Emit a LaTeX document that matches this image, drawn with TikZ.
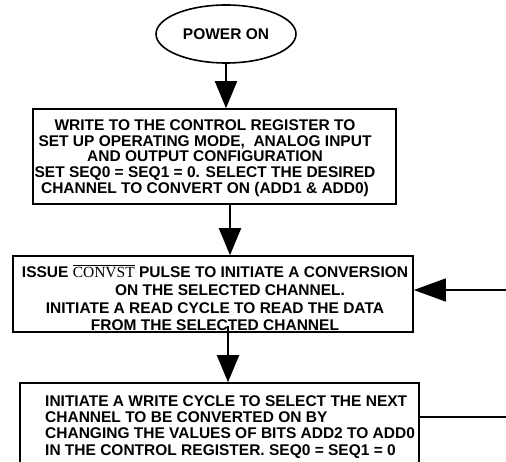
\documentclass[tikz,border=0pt]{standalone}
\usepackage{fontspec}
\setmainfont{Liberation Sans}
\newfontfamily\convfont{Liberation Serif}
\usetikzlibrary{arrows.meta,shapes.geometric}
\newcommand\ovltext[1]{{\mdseries\convfont\setbox0\hbox{#1}\rlap{\raisebox{\dimexpr\ht0+1.6pt\relax}{\rule{\wd0}{0.9pt}}}\box0}}
\tikzset{
  boxshape/.style={draw, line width=1.6pt, inner sep=0pt},
  txt/.style={inner sep=0pt, font=\fontsize{15.5}{15.6}\selectfont\bfseries},
  flow/.style={line width=2pt, -{Triangle[length=27pt,width=22pt]}},
  side/.style={line width=1.4pt},
}
\begin{document}
\begin{tikzpicture}[x=1pt,y=-1pt]
\clip (0,0) rectangle (506,462);
\useasboundingbox (0,0) rectangle (506,462);
% shapes
\node[ellipse, draw, line width=1.6pt, minimum width=140pt, minimum height=58pt, inner sep=0pt] (pw) at (226,34) {};
\node[txt] (pwt) at (226,34) {POWER ON};
\node[boxshape, minimum width=363pt, minimum height=95pt] (b1) at (214.5,156.5) {};
\node[boxshape, minimum width=400pt, minimum height=76pt] (b2) at (213,294) {};
\node[boxshape, minimum width=399pt, minimum height=117pt] (b3) at (219.5,441.5) {};
% texts
\node[txt, align=center] (t1) at (205,158) {WRITE TO THE CONTROL REGISTER TO\\SET UP OPERATING MODE,\ \ ANALOG INPUT\\AND OUTPUT CONFIGURATION\\SET SEQ0 = SEQ1 = 0. SELECT THE DESIRED\\CHANNEL TO CONVERT ON (ADD1 \& ADD0)};
\node[txt, align=center, font=\fontsize{15.5}{17.7}\selectfont\bfseries] (t2) at (215,298) {ISSUE \ovltext{CONVST} PULSE TO INITIATE A CONVERSION\\\hspace*{30pt}ON THE SELECTED CHANNEL.\\INITIATE A READ CYCLE TO READ THE DATA\\FROM THE SELECTED CHANNEL};
\node[txt, align=left, anchor=north west, font=\fontsize{15.5}{16.4}\selectfont\bfseries] (t3) at (45,395) {INITIATE A WRITE CYCLE TO SELECT THE NEXT\\CHANNEL TO BE CONVERTED ON BY\\CHANGING THE VALUES OF BITS ADD2 TO ADD0\\IN THE CONTROL REGISTER. SEQ0 = SEQ1 = 0};
% connectors
\draw[flow] (pw.south) -- (pw.south |- b1.north);
\coordinate (a2) at (230,204);
\draw[flow] (a2) -- (a2 |- b2.north);
\coordinate (a3) at (228,326);
\draw[flow] (a3) -- (a3 |- b3.north);
\coordinate (r1) at (506,290);
\draw[side, -{Triangle[length=32pt,width=23pt]}] (r1) -- (r1 -| b2.east);
\coordinate (r2) at (506,417);
\draw[side] (b3.east |- r2) -- (r2);
\end{tikzpicture}
\end{document}
